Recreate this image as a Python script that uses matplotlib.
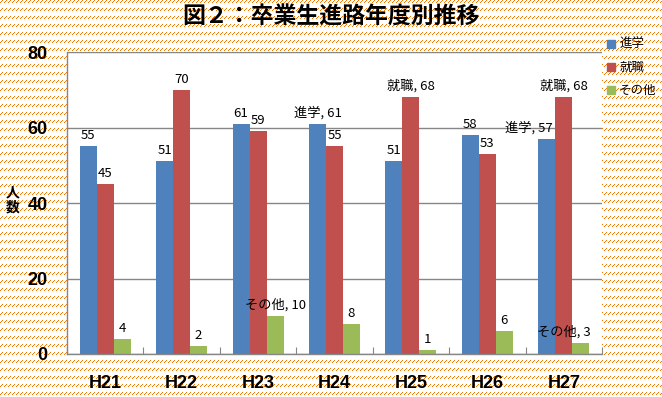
import numpy as np
import matplotlib
matplotlib.use("Agg")
import matplotlib.pyplot as plt
from matplotlib.lines import Line2D

plt.rcParams['font.family'] = ['Noto Sans CJK JP', 'DejaVu Sans']

# data
years = ["H21", "H22", "H23", "H24", "H25", "H26", "H27"]
series_names = ["進学", "就職", "その他"]
shingaku = [55, 51, 61, 61, 51, 58, 57]
shushoku = [45, 70, 59, 55, 68, 53, 68]
sonota = [4, 2, 10, 8, 1, 6, 3]
colors = ["#4F81BD", "#C0504D", "#9BBB59"]
y_ticks = [0, 20, 40, 60, 80]

# labels that also show the series name: (series index, year index) -> x shift in points
named_labels = {(2, 2): 0, (0, 3): 0, (1, 4): 0, (0, 6): -13, (1, 6): 0, (2, 6): -12}

W, H = 662, 397
fig = plt.figure(figsize=(W / 100, H / 100), dpi=100)

# orange patterned background (Excel style fill)
bg = np.ones((H, W, 3))
yy, xx = np.mgrid[0:H, 0:W]
r = yy % 8
mask = (r < 3) & ((xx + r) % 4 == 2)
bg[mask] = np.array([240, 120, 0]) / 255.0
bg_ax = fig.add_axes([0, 0, 1, 1], zorder=-5)
bg_ax.imshow(bg, interpolation='nearest', aspect='auto')
bg_ax.axis('off')

ax = fig.add_axes([67 / W, 1 - 354 / H, (602 - 67) / W, (354 - 52) / H])
ax.set_facecolor('white')

x = np.arange(len(years))
bw = 0.2225
all_vals = [shingaku, shushoku, sonota]
for si, vals in enumerate(all_vals):
    pos = x + (si - 1) * bw
    ax.bar(pos, vals, width=bw, color=colors[si], zorder=3)
    for yi, v in enumerate(vals):
        if (si, yi) in named_labels:
            txt = "%s, %d" % (series_names[si], v)
            dx = named_labels[(si, yi)]
        else:
            txt = str(v)
            dx = 0
        ax.annotate(txt, (pos[yi], v), xytext=(dx, 3), textcoords='offset points',
                    ha='center', va='bottom', fontsize=9.5, color='black', zorder=4)

ax.set_xlim(-0.5, len(years) - 0.5)
ax.set_ylim(0, 80)
ax.set_yticks(y_ticks)
ax.set_yticklabels([str(t) for t in y_ticks], family='Liberation Sans',
                   fontweight='bold', fontsize=13)
ax.tick_params(axis='y', length=0, pad=14)
ax.yaxis.grid(True, color='#868686', lw=1, zorder=1)

ax.set_xticks(np.arange(-0.5, len(years), 1.0))
ax.set_xticklabels([])
ax.tick_params(axis='x', which='major', direction='in', length=5, color='#868686')
ax.set_xticks(x, minor=True)
ax.set_xticklabels(years, minor=True, family='Liberation Sans',
                   fontweight='bold', fontsize=13)
ax.tick_params(axis='x', which='minor', length=0, pad=15)

for s in ['top', 'right']:
    ax.spines[s].set_visible(False)
for s in ['left', 'bottom']:
    ax.spines[s].set_color('#868686')
    ax.spines[s].set_linewidth(1)
    ax.spines[s].set_zorder(5)

fig.text(0.5, 1 - 17 / H, "図２：卒業生進路年度別推移", ha='center', va='center',
         fontsize=16.5, fontweight='bold')
fig.text(13 / W, 1 - 200 / H, "人\n数", ha='center', va='center',
         fontsize=10, fontweight='bold', linespacing=1.1)

handles = [Line2D([], [], marker='s', ls='none', color=c, markersize=6) for c in colors]
fig.legend(handles, series_names, loc='upper left', bbox_to_anchor=(601 / W, 1 - 33 / H),
           frameon=False, fontsize=9, handlelength=0.8, handletextpad=0.25,
           labelspacing=0.8, borderaxespad=0)

fig.savefig("out.png", dpi=100)
